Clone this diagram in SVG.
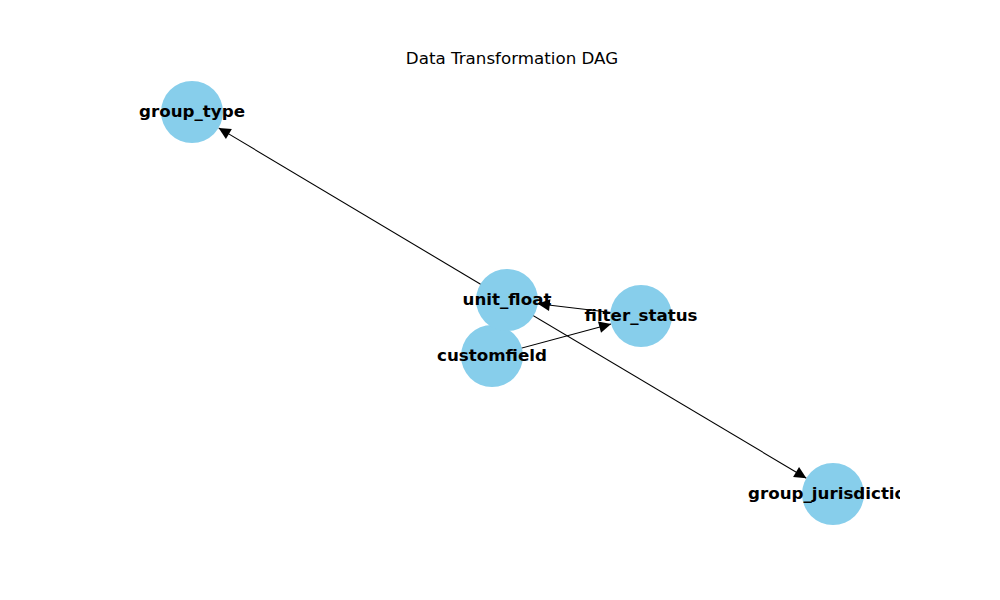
<svg xmlns="http://www.w3.org/2000/svg" width="1000" height="600" viewBox="0 0 1000 600">
<style>
.edge{stroke:#000;stroke-width:1.1;fill:none}
.node circle{fill:#87CEEB}
.lbl{font-family:"DejaVu Sans",sans-serif;font-weight:bold;font-size:16.7px;fill:#000;text-anchor:middle;dominant-baseline:central}
.title{font-family:"DejaVu Sans",sans-serif;font-size:16.7px;fill:#000;text-anchor:middle}
</style>
<defs>
<marker id="ah" markerUnits="userSpaceOnUse" markerWidth="15" markerHeight="13" refX="13" refY="6.5" orient="auto">
<path d="M1,0.7 L13,6.5 L1,12.3 Z" fill="#000"/>
</marker>
<clipPath id="ax"><rect x="125" y="72" width="775" height="462"/></clipPath>
</defs>
<rect width="1000" height="600" fill="#fff"/>
<text class="title" x="512" y="64">Data Transformation DAG</text>
<g id="edges">
<line class="edge" x1="507" y1="300" x2="218.6" y2="127.9" marker-end="url(#ah)"/>
<line class="edge" x1="507" y1="300" x2="806.4" y2="478.2" marker-end="url(#ah)"/>
<line class="edge" x1="641" y1="316" x2="537.8" y2="303.7" marker-end="url(#ah)"/>
<line class="edge" x1="492" y1="356" x2="611.1" y2="324" marker-end="url(#ah)"/>
</g>
<g id="group_type" class="node"><circle cx="192" cy="112" r="31"/></g>
<g id="customfield" class="node"><circle cx="492" cy="356" r="31"/></g>
<g id="unit_float" class="node"><circle cx="507" cy="300" r="31"/></g>
<g id="filter_status" class="node"><circle cx="641" cy="316" r="31"/></g>
<g id="group_jurisdiction" class="node"><circle cx="833" cy="494" r="31"/></g>
<g id="labels" clip-path="url(#ax)">
<text class="lbl" x="192" y="111">group_type</text>
<text class="lbl" x="492" y="355">customfield</text>
<text class="lbl" x="507" y="299">unit_float</text>
<text class="lbl" x="641" y="315">filter_status</text>
<text class="lbl" x="833" y="493">group_jurisdiction</text>
</g>
</svg>
